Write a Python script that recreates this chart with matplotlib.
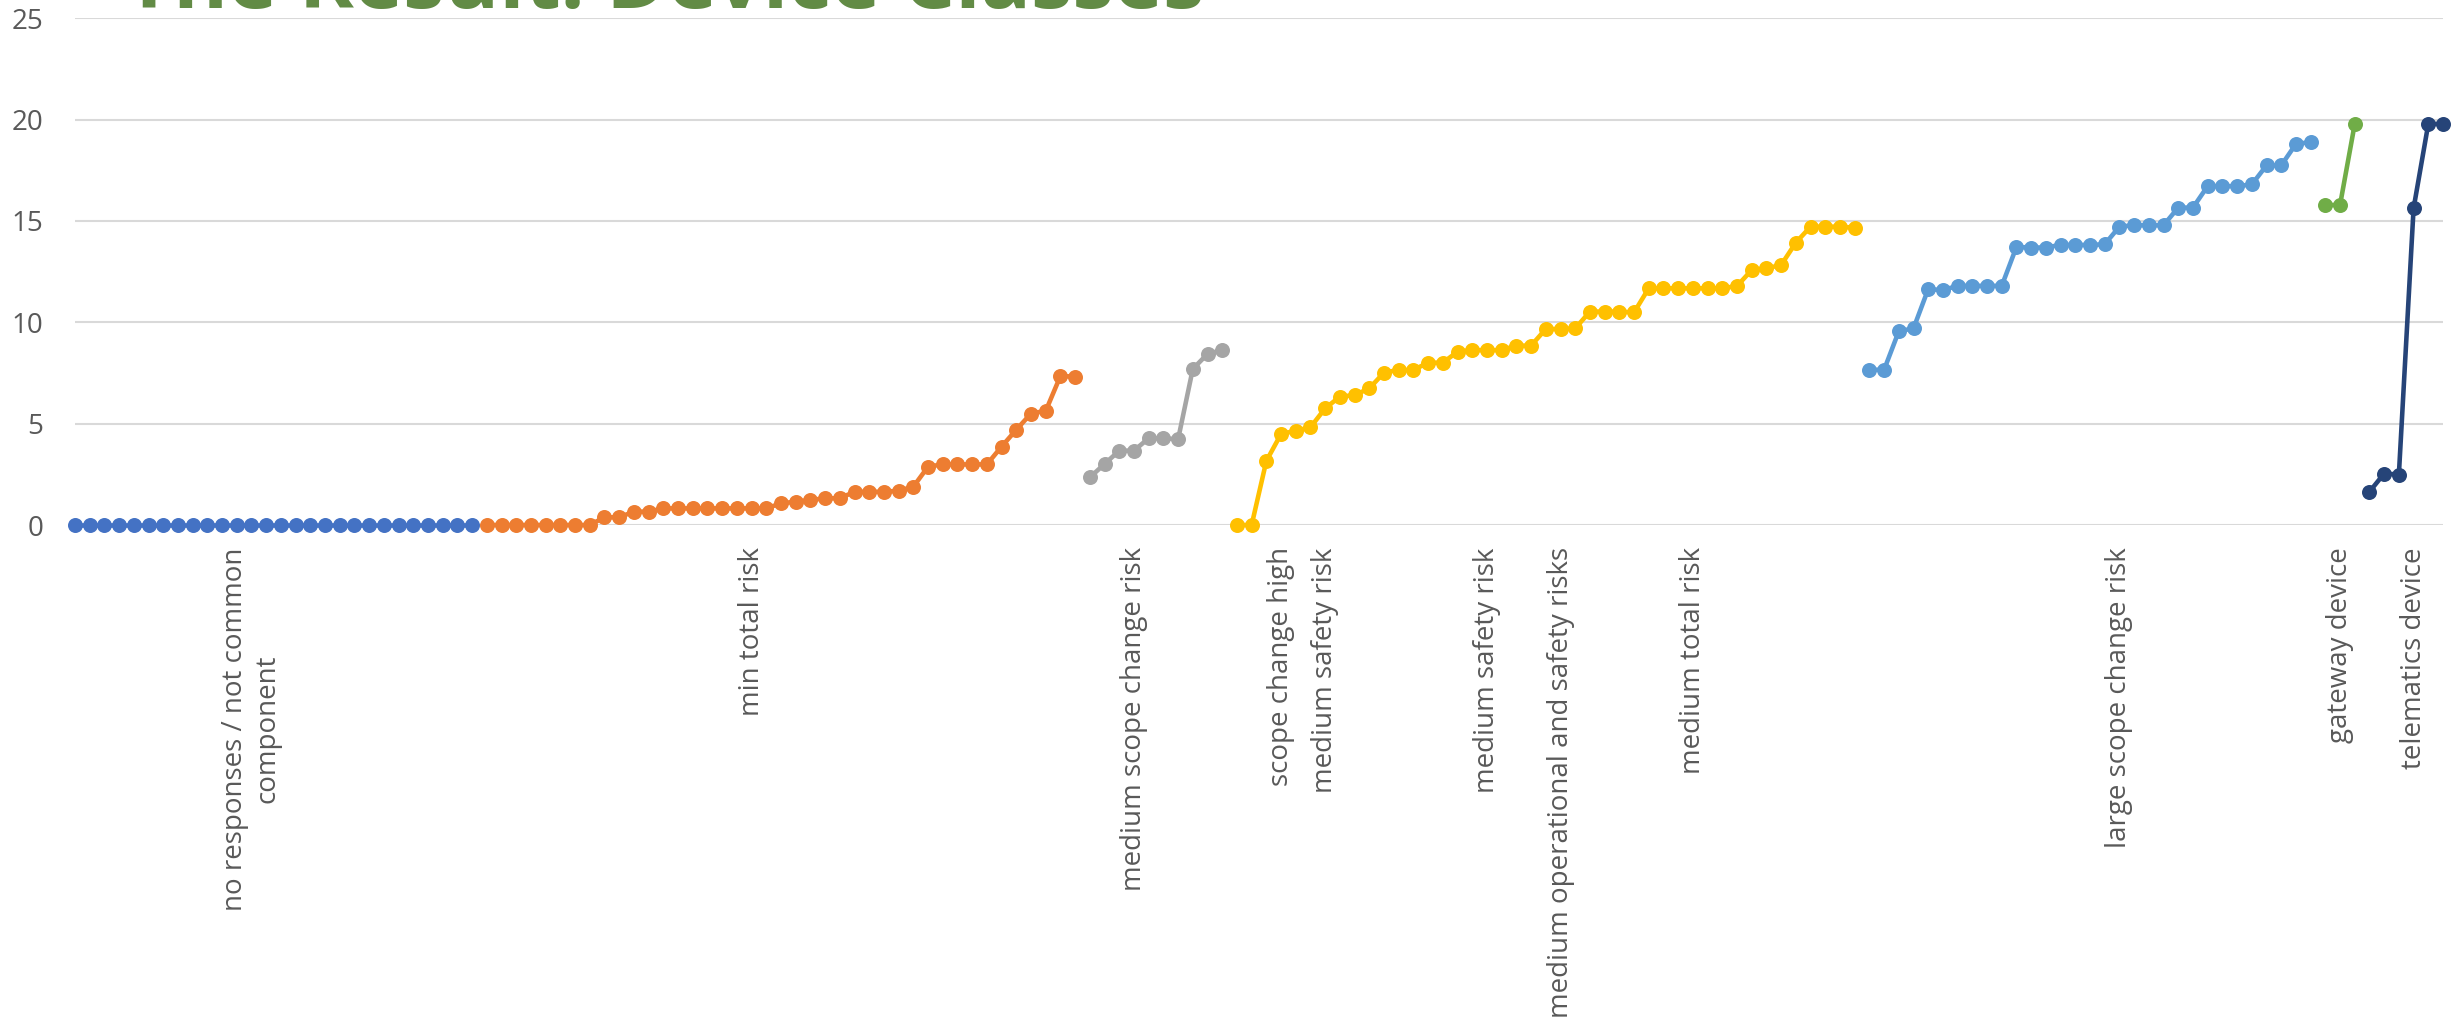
import matplotlib
matplotlib.use("Agg")
import matplotlib.pyplot as plt
import numpy as np

plt.rcParams['font.family'] = ['Open Sans', 'DejaVu Sans']

# one list per device class, in the order they are plotted left to right
no_responses = [0, 0, 0, 0, 0, 0, 0, 0, 0, 0, 0, 0, 0, 0,
                0, 0, 0, 0, 0, 0, 0, 0, 0, 0, 0, 0, 0, 0]
min_risk = [0, 0, 0, 0, 0, 0, 0, 0, 0.38, 0.38, 0.66, 0.66,
            0.82, 0.82, 0.82, 0.82, 0.82, 0.82, 0.82, 0.82,
            1.07, 1.15, 1.23, 1.32, 1.32, 1.64, 1.64, 1.64, 1.69, 1.89,
            2.88, 2.99, 2.99, 2.99, 2.99, 3.87, 4.7, 5.5, 5.63, 7.35, 7.32]
medium_scope = [2.35, 3.01, 3.67, 3.67, 4.28, 4.28, 4.23, 7.70, 8.44, 8.63]
medium_safety = [0, 0, 3.16, 4.49, 4.65, 4.82, 5.76, 6.33, 6.41, 6.74,
                 7.52, 7.65, 7.65, 8.01, 8.01, 8.55, 8.63, 8.63, 8.63, 8.85,
                 8.85, 9.67, 9.67, 9.70, 10.53, 10.53, 10.53, 10.49,
                 11.68, 11.68, 11.68, 11.68, 11.68, 11.68, 11.79, 12.58,
                 12.66, 12.83, 13.93, 14.72, 14.72, 14.72, 14.67]
large_scope = [7.66, 7.66, 9.56, 9.70, 11.64, 11.59, 11.80, 11.80, 11.80, 11.80,
               13.72, 13.69, 13.69, 13.82, 13.82, 13.82, 13.85, 14.72, 14.79,
               14.79, 14.79, 15.66, 15.66, 16.72, 16.72, 16.72, 16.80,
               17.74, 17.74, 18.80, 18.89]
gateway = [15.79, 15.79, 19.79]
telematics = [1.64, 2.54, 2.49, 15.62, 19.79, 19.79]

series = [no_responses, min_risk, medium_scope, medium_safety,
          large_scope, gateway, telematics]
colors = ['#4472C4', '#ED7D31', '#A5A5A5', '#FFC000',
          '#5B9BD5', '#70AD47', '#264478']

# category labels (most categories have no label)
label_pos = [12, 46, 72, 82, 85, 96, 101, 110, 139, 154, 159]
label_txt = ["no responses / not common\ncomponent", "min total risk",
             "medium scope change risk", "scope change high",
             "medium safety risk", "medium safety risk",
             "medium operational and safety risks", "medium total risk",
             "large scope change risk", "gateway device", "telematics device"]

fig = plt.figure(figsize=(24.51, 10.19), dpi=100)
ax = fig.add_axes([75/2451, 1 - 525/1019, 2368/2451, (525 - 18.3)/1019])

start = 0
for vals, c in zip(series, colors):
    x = np.arange(start, start + len(vals))
    ax.plot(x, vals, '-o', color=c, lw=3.3, markersize=10.8,
            markeredgewidth=0, clip_on=False, zorder=3)
    start += len(vals)

ax.set_xlim(0, start - 1)
ax.set_ylim(0, 25)
ax.set_yticks([0, 5, 10, 15, 20, 25])
ax.yaxis.grid(True, color='#D9D9D9', lw=1.5)
ax.set_axisbelow(True)
for s in ax.spines.values():
    s.set_visible(False)

ax.set_xticks(label_pos)
ax.set_xticklabels(label_txt, rotation=90, ha='center', va='top',
                   multialignment='center')
ax.tick_params(axis='x', length=0, pad=16, labelsize=20, labelcolor='#595959')
ax.tick_params(axis='y', length=0, pad=23, labelsize=20, labelcolor='#595959')

fig.text(125/2451, 1 - 8/1019, "The Result: Device Classes", fontsize=60,
         fontweight='bold', color='#628B45', va='baseline', ha='left')

fig.savefig("out.png", dpi=100)
